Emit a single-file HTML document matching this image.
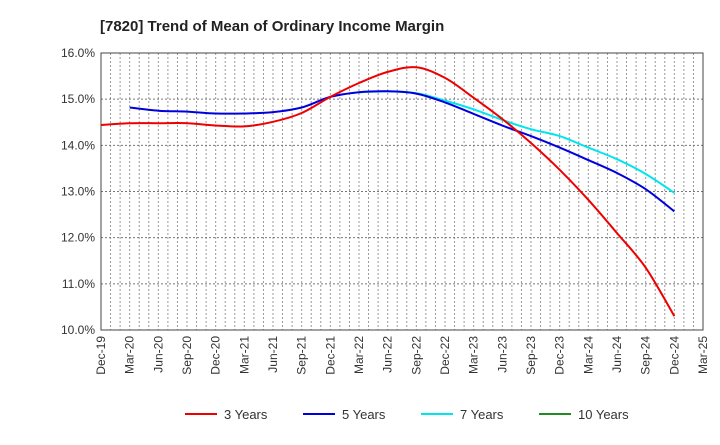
<!DOCTYPE html>
<html><head><meta charset="utf-8"><style>
body{margin:0;background:#fff;font-family:"Liberation Sans",sans-serif;}
svg text{font-family:"Liberation Sans",sans-serif;}
</style></head><body>
<svg id="chart" width="720" height="440" viewBox="0 0 720 440">
<text x="100" y="31" font-size="15" font-weight="bold" fill="#222">[7820]  Trend of Mean of Ordinary Income Margin</text>
<g id="grid"></g><g id="axes"></g><g id="series"></g><g id="legend"></g>
</svg>
<script>
const xLabels=["Dec-19","Mar-20","Jun-20","Sep-20","Dec-20","Mar-21","Jun-21","Sep-21","Dec-21","Mar-22","Jun-22","Sep-22","Dec-22","Mar-23","Jun-23","Sep-23","Dec-23","Mar-24","Jun-24","Sep-24","Dec-24","Mar-25"];
const yTicks=[10,11,12,13,14,15,16];
const s3=[14.44,14.48,14.48,14.48,14.43,14.41,14.51,14.70,15.05,15.35,15.59,15.69,15.46,15.03,14.57,14.05,13.47,12.82,12.10,11.35,10.30];
const s5=[null,14.82,14.75,14.73,14.69,14.69,14.72,14.82,15.05,15.15,15.17,15.12,14.93,14.68,14.43,14.20,13.95,13.68,13.40,13.05,12.57];
const s7=[null,null,null,null,null,null,null,null,null,15.15,15.17,15.13,14.97,14.78,14.55,14.35,14.20,13.95,13.70,13.38,12.97];
const s10=[];
const L=101,R=703,T=53,B=330,ns="http://www.w3.org/2000/svg";
const nMonths=(xLabels.length-1)*3;
const xm=m=>L+(R-L)*m/nMonths, xq=i=>xm(i*3);
const y=v=>B-(v-10)/6*(B-T);
function mk(tag,attrs,parent){const e=document.createElementNS(ns,tag);for(const k in attrs)e.setAttribute(k,attrs[k]);document.getElementById(parent).appendChild(e);return e;}
for(let m=1;m<nMonths;m++){const l=mk('line',{x1:xm(m),x2:xm(m),y1:T,y2:B,stroke:'#999','stroke-dasharray':'2,2','stroke-width':1},'grid');

}
yTicks.forEach(v=>{const l=mk('line',{x1:L,x2:R,y1:y(v),y2:y(v),stroke:'#777','stroke-dasharray':'2,2','stroke-width':1},'grid');


const t=mk('text',{x:L-6,y:y(v)+4,'text-anchor':'end','font-size':12,fill:'#333'},'axes');t.textContent=v.toFixed(1)+'%';

});
const fr=mk('rect',{x:L,y:T,width:R-L,height:B-T,fill:'none',stroke:'#444','stroke-width':1},'axes');


xLabels.forEach((s,i)=>{const t=mk('text',{x:0,y:0,'text-anchor':'end','font-size':12,fill:'#333',transform:`translate(${xq(i)+4},${B+6}) rotate(-90)`},'axes');t.textContent=s;

});
function path(arr,color,name){const pts=[];arr.forEach((v,i)=>{if(v!=null)pts.push([xq(i),y(v)]);});if(pts.length<2)return;
let d='M'+pts[0][0].toFixed(1)+','+pts[0][1].toFixed(1);
for(let i=0;i<pts.length-1;i++){const p0=pts[i-1]||pts[i],p1=pts[i],p2=pts[i+1],p3=pts[i+2]||p2;
const c1=[p1[0]+(p2[0]-p0[0])/6,p1[1]+(p2[1]-p0[1])/6],c2=[p2[0]-(p3[0]-p1[0])/6,p2[1]-(p3[1]-p1[1])/6];
d+='C'+c1[0].toFixed(1)+','+c1[1].toFixed(1)+' '+c2[0].toFixed(1)+','+c2[1].toFixed(1)+' '+p2[0].toFixed(1)+','+p2[1].toFixed(1);}
const p=mk('path',{d:d,fill:'none',stroke:color,'stroke-width':2,'stroke-linejoin':'round'},'series');

}
path(s7,'#00e5ee','series-7-years');path(s5,'#0000dd','series-5-years');path(s3,'#ee0000','series-3-years');path(s10,'#228b22','series-10-years');
const leg=[["3 Years","#ee0000",185],["5 Years","#0000dd",303],["7 Years","#00e5ee",421],["10 Years","#228b22",539]];
leg.forEach(([n,c,x])=>{const l=mk('line',{x1:x,x2:x+32,y1:414,y2:414,stroke:c,'stroke-width':2},'legend');


const t=mk('text',{x:x+39,y:419,'font-size':13,fill:'#333'},'legend');t.textContent=n;

});
</script>
</body></html>
